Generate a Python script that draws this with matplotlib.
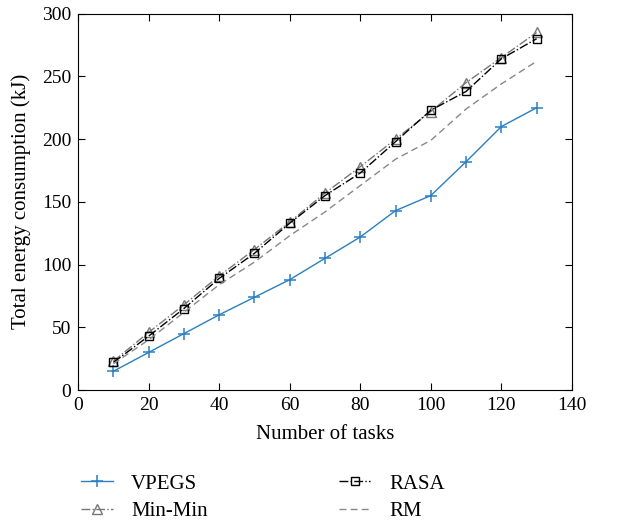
import matplotlib
matplotlib.use('Agg')
import matplotlib.pyplot as plt

plt.rcParams['font.family'] = ['Liberation Serif', 'DejaVu Serif']

tasks = [10, 20, 30, 40, 50, 60, 70, 80, 90, 100, 110, 120, 130]
vpegs = [15, 30, 45, 60, 74, 88, 105, 122, 143, 155, 182, 210, 225]
min_min = [23, 46, 68, 91, 112, 134, 157, 178, 200, 222, 245, 265, 285]
rasa = [22, 43, 65, 89, 109, 133, 155, 173, 198, 223, 238, 264, 280]
rm = [21, 40, 62, 84, 102, 123, 142, 163, 184, 199, 224, 244, 262]

fig = plt.figure(figsize=(6.25, 5.25), dpi=100)
ax = fig.add_axes([0.125, 0.257, 0.79, 0.717])

ax.plot(tasks, vpegs, color='#2b7fc1', lw=1.0, marker='+', ms=9, mew=1.1, label='VPEGS')
ax.plot(tasks, min_min, color='#777777', lw=1.0, ls='-.', marker='^', ms=7,
        mfc='none', mew=1.0, label='Min-Min')
ax.plot(tasks, rasa, color='black', lw=1.0, ls='-.', marker='s', ms=6,
        mfc='none', mew=1.0, label='RASA')
ax.plot(tasks, rm, color='#888888', lw=1.0, dashes=(5, 3), label='RM')

ax.set_xlim(0, 140)
ax.set_ylim(0, 300)
ax.set_xticks(range(0, 141, 20))
ax.set_yticks(range(0, 301, 50))
ax.tick_params(direction='in', top=True, right=True, labelsize=14, length=5, pad=5)
ax.set_xlabel('Number of tasks', fontsize=15, labelpad=8)
ax.set_ylabel('Total energy consumption (kJ)', fontsize=15, labelpad=8)

fig.legend(loc='upper left', bbox_to_anchor=(0.1, 0.133), ncol=2, frameon=False,
           fontsize=15, columnspacing=6.3, handlelength=1.5, handletextpad=0.9,
           labelspacing=0.4)

fig.savefig('out.png', dpi=100)
